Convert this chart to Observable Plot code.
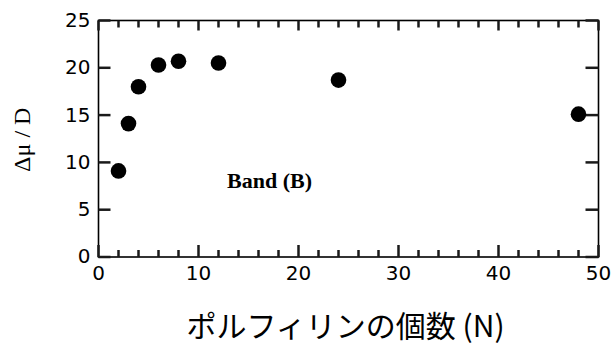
<!DOCTYPE html>
<html><head><meta charset="utf-8">
<script src="https://cdn.jsdelivr.net/npm/d3@7"></script>
<script src="https://cdn.jsdelivr.net/npm/@observablehq/plot@0.6"></script>
<style>body{margin:0;background:#fff} svg{display:block}</style>
</head><body><div id="chart"></div>
<script>
const nPorphyrin = [2, 3, 4, 6, 8, 12, 24, 48];
const deltaMu = [9.1, 14.1, 18.0, 20.3, 20.7, 20.5, 18.7, 15.1];
const xMajorTicks = [0, 10, 20, 30, 40, 50];
const xMinorTicks = [2, 4, 6, 8, 12, 14, 16, 18, 22, 24, 26, 28, 32, 34, 36, 38, 42, 44, 46, 48];
const yMajorTicks = [0, 5, 10, 15, 20, 25];
const xLabel = "ポルフィリンの個数 (N)";
const yLabel = "Δμ / D";
const bandLabel = "Band (B)";

const points = nPorphyrin.map((n, i) => ({n, d: deltaMu[i]}));

const W = 615, H = 345, mT = 20, mR = 17, mB = 88.5, mL = 98;
const xMin = 0, xMax = 50, yMin = 0, yMax = 25;
// pixel tick lengths converted into data units along each axis
const pxY = (yMax - yMin) / (H - mT - mB);
const pxX = (xMax - xMin) / (W - mL - mR);
const tickColor = "#1a1a1a";

const chart = Plot.plot({
  width: W,
  height: H,
  marginTop: mT,
  marginRight: mR,
  marginBottom: mB,
  marginLeft: mL,
  style: {fontFamily: "DejaVu Sans", fontSize: "20px", background: "#fff", color: "#000"},
  x: {domain: [xMin, xMax]},
  y: {domain: [yMin, yMax]},
  marks: [
    Plot.frame({stroke: "black", strokeWidth: 1.6}),
    Plot.link(xMajorTicks, {x1: d => d, x2: d => d, y1: () => yMin, y2: () => yMin + 12 * pxY, stroke: tickColor, strokeWidth: 2.5}),
    Plot.link(xMinorTicks, {x1: d => d, x2: d => d, y1: () => yMin, y2: () => yMin + 7 * pxY, stroke: tickColor, strokeWidth: 2.5}),
    Plot.link(xMajorTicks, {x1: d => d, x2: d => d, y1: () => yMax, y2: () => yMax - 10 * pxY, stroke: tickColor, strokeWidth: 2.5}),
    Plot.link(xMinorTicks, {x1: d => d, x2: d => d, y1: () => yMax, y2: () => yMax - 7 * pxY, stroke: tickColor, strokeWidth: 2.5}),
    Plot.link(yMajorTicks, {y1: d => d, y2: d => d, x1: () => xMin, x2: () => xMin + 12 * pxX, stroke: tickColor, strokeWidth: 2.5}),
    Plot.link(yMajorTicks, {y1: d => d, y2: d => d, x1: () => xMax, x2: () => xMax - 13 * pxX, stroke: tickColor, strokeWidth: 2.5}),
    Plot.axisX(xMajorTicks, {anchor: "bottom", tickSize: 0, tickPadding: 9, label: null, fontSize: 20}),
    Plot.axisY(yMajorTicks, {anchor: "left", tickSize: 0, tickPadding: 8, label: null, fontSize: 20}),
    Plot.dot(points, {x: "n", y: "d", r: 7.8, fill: "black", stroke: null}),
    Plot.text([bandLabel], {x: () => 17.1, y: () => 8, text: d => d, fontFamily: "Liberation Serif", fontWeight: "bold", fontSize: 22, textAnchor: "middle", lineAnchor: "middle"}),
    Plot.text([xLabel], {frameAnchor: "bottom", dy: 70, dx: -3, text: d => d, fontFamily: "Noto Sans CJK JP", fontSize: 30, lineAnchor: "middle", textAnchor: "middle", letterSpacing: "2.5px"}),
    Plot.text([yLabel], {frameAnchor: "left", dx: -76, dy: 1, rotate: -90, text: d => d, fontFamily: "Liberation Serif", fontSize: 24, lineAnchor: "middle", textAnchor: "middle"})
  ]
});
document.getElementById("chart").appendChild(chart);
</script>
</body></html>
